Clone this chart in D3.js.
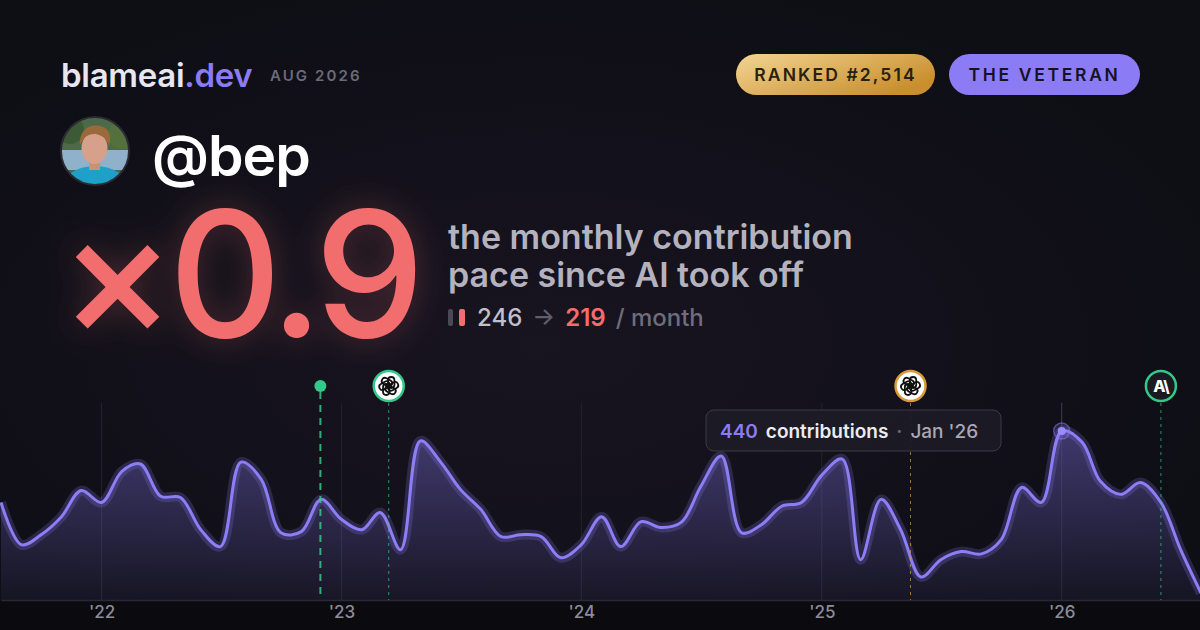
<!DOCTYPE html>
<html>
<head>
<meta charset="utf-8">
<script src="https://cdn.jsdelivr.net/npm/d3@7/dist/d3.min.js"></script>
<style>
  html, body { margin: 0; padding: 0; background: #0e0e15; }
  svg { display: block; }
  text { font-family: Inter, "Noto Sans", sans-serif; }
</style>
</head>
<body>
<svg id="card" width="1200" height="630"></svg>
<script>
// monthly contributions, Aug 2021 .. Aug 2026
var months = [
  "2021-08","2021-09","2021-10","2021-11","2021-12",
  "2022-01","2022-02","2022-03","2022-04","2022-05","2022-06","2022-07","2022-08","2022-09","2022-10","2022-11","2022-12",
  "2023-01","2023-02","2023-03","2023-04","2023-05","2023-06","2023-07","2023-08","2023-09","2023-10","2023-11","2023-12",
  "2024-01","2024-02","2024-03","2024-04","2024-05","2024-06","2024-07","2024-08","2024-09","2024-10","2024-11","2024-12",
  "2025-01","2025-02","2025-03","2025-04","2025-05","2025-06","2025-07","2025-08","2025-09","2025-10","2025-11","2025-12",
  "2026-01","2026-02","2026-03","2026-04","2026-05","2026-06","2026-07","2026-08"
];
var contributions = [
  254,144,170,217,285,
  254,335,354,270,267,183,139,359,314,175,178,262,
  210,183,228,131,414,359,288,236,165,170,165,110,
  144,217,139,204,189,202,296,375,175,196,244,254,
  325,367,105,262,183,60,105,126,120,157,293,254,
  440,411,309,275,306,254,131,18
];
var yearTicks = ["2022-01","2023-01","2024-01","2025-01","2026-01"];
var yearLabels = ["'22","'23","'24","'25","'26"];

// AI release markers
var markerDates = ["2022-11-30","2023-03-14","2025-05-16","2026-06-01"];
var markerKinds = ["dot","openai","openai","anthropic"];
var markerRing = ["#34c98a","#34c98a","#d99a3c","#34c98a"];

var hoverMonth = "2026-01";
var hoverValue = 440;
var rankText = "RANKED #2,514";
var titleText = "THE VETERAN";
var paceBefore = 246, paceAfter = 219;

var W = 1200, H = 630;
var svg = d3.select("#card");
var parse = d3.timeParse("%Y-%m");
var parseDay = d3.timeParse("%Y-%m-%d");
var series = months.map(function (m, i) { return { date: parse(m), value: contributions[i] }; });

var defs = svg.append("defs");

// background
var bg = defs.append("radialGradient").attr("id", "bgGlow")
  .attr("cx", "0.45").attr("cy", "0.55").attr("r", "0.6");
bg.append("stop").attr("offset", "0%").attr("stop-color", "#181420");
bg.append("stop").attr("offset", "100%").attr("stop-color", "#0e0e15");
svg.append("rect").attr("width", W).attr("height", H).attr("fill", "url(#bgGlow)");

// ---------- chart ----------
var x = d3.scaleTime()
  .domain([parse("2021-08"), parse("2026-08")])
  .range([1, 1201]);
var y = d3.scaleLinear().domain([0, 440]).range([600, 431]);

svg.append("rect").attr("x", 0).attr("y", 600).attr("width", W).attr("height", 30).attr("fill", "#0a0a0f");

// year gridlines
svg.append("g").selectAll("line").data(yearTicks).enter().append("line")
  .attr("x1", function (d) { return x(parse(d)); })
  .attr("x2", function (d) { return x(parse(d)); })
  .attr("y1", 403).attr("y2", 600)
  .attr("stroke", "#24232e").attr("stroke-width", 1);

var areaGrad = defs.append("linearGradient").attr("id", "areaGrad")
  .attr("x1", 0).attr("y1", 0).attr("x2", 0).attr("y2", 1);
areaGrad.append("stop").attr("offset", "0%").attr("stop-color", "#8b7cf6").attr("stop-opacity", 0.38);
areaGrad.append("stop").attr("offset", "100%").attr("stop-color", "#8b7cf6").attr("stop-opacity", 0.06);
var areaClip = defs.append("clipPath").attr("id", "plotClip");
areaClip.append("rect").attr("x", 0).attr("y", 380).attr("width", W).attr("height", 220);

var curve = d3.curveCatmullRom.alpha(0.5);
var area = d3.area().curve(curve)
  .x(function (d) { return x(d.date); })
  .y0(y(0))
  .y1(function (d) { return y(d.value); });
var line = d3.line().curve(curve)
  .x(function (d) { return x(d.date); })
  .y(function (d) { return y(d.value); });

var plot = svg.append("g").attr("clip-path", "url(#plotClip)");
plot.append("path").datum(series).attr("d", area).attr("fill", "url(#areaGrad)");
plot.append("path").datum(series).attr("d", line)
  .attr("fill", "none").attr("stroke", "#8b7cf6").attr("stroke-opacity", 0.22)
  .attr("stroke-width", 10).attr("stroke-linejoin", "round");
plot.append("path").datum(series).attr("d", line)
  .attr("fill", "none").attr("stroke", "#8c7ef5")
  .attr("stroke-width", 3).attr("stroke-linejoin", "round");

// axis
var axis = d3.axisBottom(x)
  .tickValues(yearTicks.map(function (d) { return parse(d); }))
  .tickFormat(function (d, i) { return yearLabels[i]; })
  .tickSize(0).tickPadding(6);
var gAxis = svg.append("g").attr("transform", "translate(0,600)").call(axis);
gAxis.select(".domain").attr("stroke", "#2a2a36").attr("stroke-width", 1.5);
gAxis.selectAll("text").attr("fill", "#8d8c99").attr("font-size", 17)
  .attr("font-family", "Inter, sans-serif").attr("font-weight", 500);

// markers
var mg = svg.append("g");
markerDates.forEach(function (d, i) {
  var mx = x(parseDay(d));
  var kind = markerKinds[i];
  if (kind === "dot") {
    mg.append("line").attr("x1", mx).attr("x2", mx).attr("y1", 392).attr("y2", 600)
      .attr("stroke", "#34c98a").attr("stroke-width", 2).attr("stroke-dasharray", "7,6").attr("opacity", 0.85);
    mg.append("circle").attr("cx", mx).attr("cy", 386).attr("r", 6).attr("fill", "#34c98a");
    return;
  }
  mg.append("line").attr("x1", mx).attr("x2", mx).attr("y1", 403).attr("y2", 600)
    .attr("stroke", markerRing[i]).attr("stroke-width", 1).attr("stroke-dasharray", "3,4").attr("opacity", 0.7);
  mg.append("circle").attr("cx", mx).attr("cy", 386).attr("r", 15)
    .attr("fill", kind === "openai" ? "#ffffff" : "#1a1a20")
    .attr("stroke", markerRing[i]).attr("stroke-width", 2.5);
  if (kind === "openai") {
    var knot = mg.append("g").attr("transform", "translate(" + mx + ",386)");
    d3.range(6).forEach(function (k) {
      knot.append("rect").attr("x", -3.2).attr("y", -9).attr("width", 6.4).attr("height", 11)
        .attr("rx", 3.2).attr("fill", "none").attr("stroke", "#111").attr("stroke-width", 1.8)
        .attr("transform", "rotate(" + (k * 60) + ") translate(2.5,0)");
    });
  } else {
    mg.append("text").attr("x", mx).attr("y", 392).attr("text-anchor", "middle")
      .attr("fill", "#ffffff").attr("font-size", 16).attr("font-weight", 800)
      .attr("letter-spacing", -1).text("A\\");
  }
});

// hover point + tooltip
var hx = x(parse(hoverMonth)), hy = y(hoverValue);
svg.append("line").attr("x1", hx).attr("x2", hx).attr("y1", 403).attr("y2", hy)
  .attr("stroke", "#3a3948").attr("stroke-width", 1);
svg.append("circle").attr("cx", hx).attr("cy", hy).attr("r", 8)
  .attr("fill", "#8b7cf6").attr("fill-opacity", 0.2).attr("stroke", "#8b7cf6").attr("stroke-opacity", 0.5).attr("stroke-width", 1.5);
svg.append("circle").attr("cx", hx).attr("cy", hy).attr("r", 4).attr("fill", "#9a8cff");

var tip = svg.append("g").attr("transform", "translate(706,410)");
tip.append("rect").attr("width", 295).attr("height", 41).attr("rx", 8)
  .attr("fill", "#1c1b25").attr("fill-opacity", 0.95).attr("stroke", "#3b3a47").attr("stroke-width", 1);
var tt = tip.append("text").attr("x", 14).attr("y", 28).attr("font-size", 19).attr("font-weight", 600);
tt.append("tspan").attr("fill", "#8b7cf6").text(hoverValue);
tt.append("tspan").attr("fill", "#ecebf2").attr("dx", 8).text("contributions");
tt.append("tspan").attr("fill", "#6c6b78").attr("dx", 8).text("·");
tt.append("tspan").attr("fill", "#a9a8b4").attr("dx", 8).attr("font-weight", 500)
  .text(d3.timeFormat("%b '%y")(parse(hoverMonth)));

// ---------- header ----------
var brand = svg.append("text").attr("x", 61).attr("y", 87).attr("font-size", 33).attr("font-weight", 600)
  .attr("letter-spacing", -0.3);
brand.append("tspan").attr("fill", "#e8e7ef").text("blameai");
brand.append("tspan").attr("fill", "#8b7cf6").text(".dev");
svg.append("text").attr("x", 270).attr("y", 81).attr("font-size", 15).attr("font-weight", 600)
  .attr("letter-spacing", 2.1).attr("fill", "#6b6a79").text("AUG 2026");

var gold = defs.append("linearGradient").attr("id", "gold").attr("x1", 0).attr("y1", 0).attr("x2", 1).attr("y2", 0.6);
gold.append("stop").attr("offset", "0%").attr("stop-color", "#f3d593");
gold.append("stop").attr("offset", "100%").attr("stop-color", "#c98f2e");
svg.append("rect").attr("x", 736).attr("y", 54).attr("width", 199).attr("height", 41).attr("rx", 20.5)
  .attr("fill", "url(#gold)");
svg.append("text").attr("x", 835.5).attr("y", 81).attr("text-anchor", "middle").attr("font-size", 17.5)
  .attr("font-weight", 600).attr("letter-spacing", 2.1).attr("fill", "#2a2010").text(rankText);
svg.append("rect").attr("x", 949).attr("y", 54).attr("width", 191).attr("height", 41).attr("rx", 20.5)
  .attr("fill", "#8b7cf6");
svg.append("text").attr("x", 1044.5).attr("y", 81).attr("text-anchor", "middle").attr("font-size", 17.5)
  .attr("font-weight", 600).attr("letter-spacing", 2.7).attr("fill", "#15131f").text(titleText);

// avatar (drawn stand-in for the photo)
var av = defs.append("clipPath").attr("id", "avClip");
av.append("circle").attr("cx", 95).attr("cy", 151).attr("r", 34);
var avG = svg.append("g").attr("clip-path", "url(#avClip)");
avG.append("rect").attr("x", 61).attr("y", 117).attr("width", 68).attr("height", 68).attr("fill", "#4c6a4a");
avG.append("rect").attr("x", 61).attr("y", 150).attr("width", 68).attr("height", 20).attr("fill", "#8fb1c9");
avG.append("circle").attr("cx", 70).attr("cy", 130).attr("r", 14).attr("fill", "#3d5a36");
avG.append("circle").attr("cx", 122).attr("cy", 135).attr("r", 14).attr("fill", "#54703d");
avG.append("ellipse").attr("cx", 95).attr("cy", 190).attr("rx", 34).attr("ry", 24).attr("fill", "#1fa0c8");
avG.append("rect").attr("x", 89).attr("y", 158).attr("width", 11).attr("height", 12).attr("fill", "#c9907a");
avG.append("ellipse").attr("cx", 94.5).attr("cy", 148).attr("rx", 13).attr("ry", 16).attr("fill", "#d7a08a");
avG.append("path").attr("d", "M80,145 C79,128 92,124 100,126 C110,128 112,138 109,146 C106,136 98,134 94,134 C86,134 83,139 80,145 Z")
  .attr("fill", "#9a6a3a");
svg.append("circle").attr("cx", 95).attr("cy", 151).attr("r", 34).attr("fill", "none")
  .attr("stroke", "#2a2a33").attr("stroke-width", 2);

svg.append("text").attr("x", 152).attr("y", 176).attr("font-size", 57).attr("font-weight", 600)
  .attr("letter-spacing", -1).attr("fill", "#ffffff").text("@bep");

// big multiplier with a soft glow behind it
var glow = defs.append("filter").attr("id", "glow").attr("x", "-20%").attr("y", "-30%").attr("width", "140%").attr("height", "160%");
glow.append("feGaussianBlur").attr("in", "SourceGraphic").attr("stdDeviation", 16).attr("result", "b");
glow.append("feColorMatrix").attr("in", "b").attr("type", "matrix")
  .attr("values", "1 0 0 0 0  0 1 0 0 0  0 0 1 0 0  0 0 0 0.28 0").attr("result", "bf");
var fm = glow.append("feMerge");
fm.append("feMergeNode").attr("in", "bf");
fm.append("feMergeNode").attr("in", "SourceGraphic");
var ratio = paceAfter / paceBefore;
svg.append("text").attr("x", 59).attr("y", 337).attr("font-size", 175).attr("font-weight", 500)
  .attr("letter-spacing", -7).attr("fill", "#f26e6e").attr("filter", "url(#glow)")
  .text("×" + d3.format(".1f")(ratio));

svg.append("text").attr("x", 448).attr("y", 249).attr("font-size", 34).attr("font-weight", 600)
  .attr("fill", "#b3b2be").text("the monthly contribution");
svg.append("text").attr("x", 448).attr("y", 287).attr("font-size", 34).attr("font-weight", 600)
  .attr("fill", "#b3b2be").text("pace since AI took off");

svg.append("rect").attr("x", 448).attr("y", 309).attr("width", 5).attr("height", 17).attr("rx", 2).attr("fill", "#4a4a57");
svg.append("rect").attr("x", 459).attr("y", 309).attr("width", 6).attr("height", 17).attr("rx", 2).attr("fill", "#f26e6e");
var pace = svg.append("text").attr("x", 477).attr("y", 326).attr("font-size", 24).attr("font-weight", 500);
pace.append("tspan").attr("fill", "#c0bfcb").text(paceBefore);
pace.append("tspan").attr("fill", "#5f5e6b").attr("dx", 10).text("→");
pace.append("tspan").attr("fill", "#f26e6e").attr("dx", 10).attr("font-weight", 600).text(paceAfter);
pace.append("tspan").attr("fill", "#6e6d7b").attr("dx", 10).text("/ month");
</script>
</body>
</html>
